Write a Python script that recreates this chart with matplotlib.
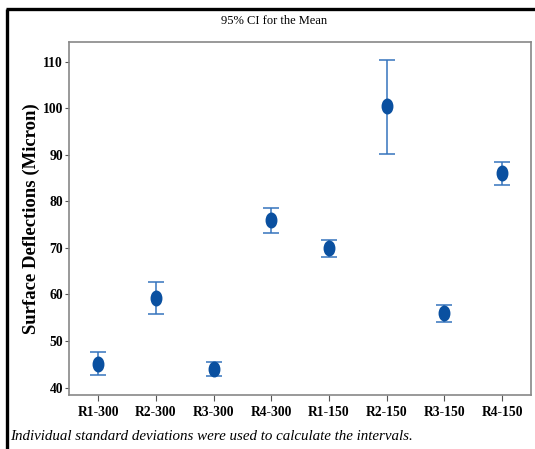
import matplotlib.pyplot as plt
from matplotlib.path import Path
from matplotlib.markers import MarkerStyle
from matplotlib.transforms import Affine2D
from matplotlib.lines import Line2D
import numpy as np

groups = ["R1-300", "R2-300", "R3-300", "R4-300", "R1-150", "R2-150", "R3-150", "R4-150"]
means = [45.1, 59.3, 44.0, 76.0, 69.9, 100.5, 56.1, 86.0]
upper = [47.6, 62.6, 45.4, 78.6, 71.8, 110.4, 57.7, 88.5]
lower = [42.7, 55.7, 42.5, 73.3, 68.0, 90.2, 54.1, 83.5]
yticks = [40, 50, 60, 70, 80, 90, 100, 110]

plt.rcParams['font.family'] = ['Liberation Serif', 'DejaVu Serif']

fig = plt.figure(figsize=(5.35, 4.49), dpi=100)
ax = fig.add_axes([0.1295, 0.1203, 0.863, 0.7868])

x = np.arange(1, len(groups) + 1)
m = np.array(means)
err = [m - np.array(lower), np.array(upper) - m]

# slightly tall oval marker
oval = MarkerStyle(Path.unit_circle().transformed(Affine2D().scale(0.72, 1.0)))

ax.errorbar(x, m, yerr=err, fmt='none', ecolor='#3574bd', elinewidth=1.1,
            capsize=6, capthick=1.1, zorder=2)
ax.plot(x, m, linestyle='none', marker=oval, markersize=10.5,
        color='#0a50a0', zorder=3)

ax.set_xlim(0.5, 8.5)
ax.set_ylim(38.4, 114.3)
ax.set_xticks(x)
ax.set_xticklabels(groups, fontsize=9.8, fontweight='bold')
ax.set_yticks(yticks)
ax.set_yticklabels([str(v) for v in yticks], fontsize=9.8, fontweight='bold')
ax.tick_params(axis='x', direction='out', length=4, width=0.8, color='#555555', pad=4)
ax.tick_params(axis='y', direction='out', length=3, width=0.8, color='#555555', pad=1.5)
for s in ax.spines.values():
    s.set_color('#888888')
    s.set_linewidth(1.2)

ax.set_ylabel("Surface Deflections (Micron)", fontsize=13.5, fontweight='bold', labelpad=2)

fig.text(0.513, 0.953, "95% CI for the Mean", ha='center', va='center', fontsize=9)
fig.text(0.019, 0.027, "Individual standard deviations were used to calculate the intervals.",
         ha='left', va='center', fontsize=10.8, style='italic')

# outer frame, left and top only
fig.add_artist(Line2D([0.0131, 0.0131], [0.0, 0.981], transform=fig.transFigure,
                      color='black', linewidth=2.4, solid_capstyle='butt'))
fig.add_artist(Line2D([0.0112, 1.0], [0.981, 0.981], transform=fig.transFigure,
                      color='black', linewidth=2.4, solid_capstyle='butt'))

fig.savefig('out.png', dpi=100)
